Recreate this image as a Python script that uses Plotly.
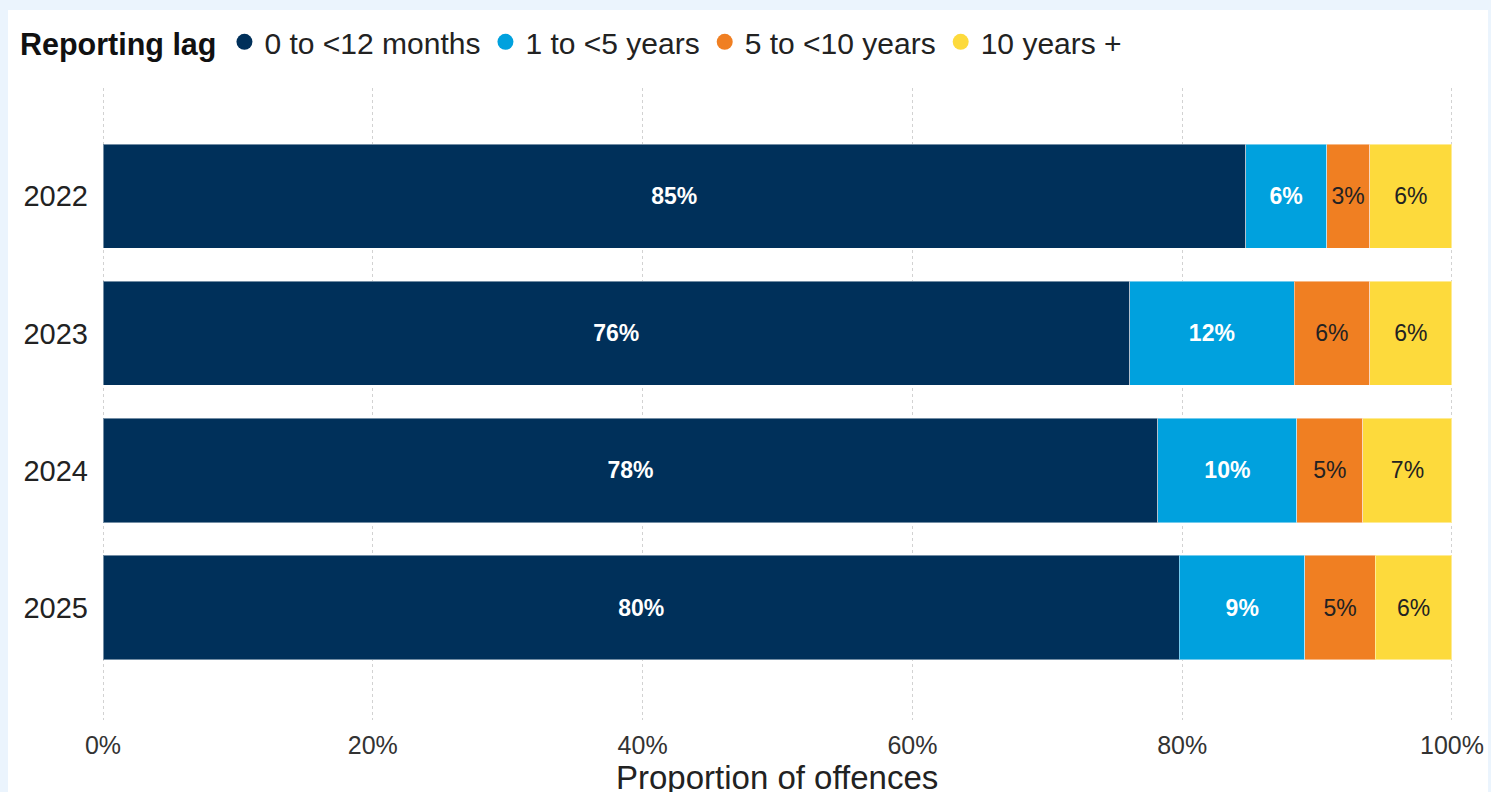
import plotly.graph_objects as go

years = ["2022", "2023", "2024", "2025"]
series_names = ["0 to <12 months", "1 to <5 years", "5 to <10 years", "10 years +"]
lag_0_12m = [84.7, 76.1, 78.2, 79.8]
lag_1_5y = [6.0, 12.2, 10.3, 9.3]
lag_5_10y = [3.2, 5.6, 4.9, 5.2]
lag_10y_plus = [6.1, 6.1, 6.6, 5.7]
x_ticks = [0, 20, 40, 60, 80, 100]
x_tick_labels = ["0%", "20%", "40%", "60%", "80%", "100%"]
x_title = "Proportion of offences"

series_values = [lag_0_12m, lag_1_5y, lag_5_10y, lag_10y_plus]
colors = ["#00305A", "#00A1DE", "#F07F22", "#FDDA3C"]
text_colors = ["#FFFFFF", "#FFFFFF", "#222222", "#222222"]
text_weights = ["bold", "bold", "normal", "normal"]

FONT = "Liberation Sans, Arial, sans-serif"
W, H = 1491, 792
ML, MR, MT, MB = 101, 37, 88, 72

fig = go.Figure()
for name, vals, col, tcol, tw in zip(series_names, series_values, colors, text_colors, text_weights):
    fig.add_trace(go.Bar(
        y=years, x=vals, orientation="h", name=name,
        marker=dict(color=col, line=dict(color="rgba(255,255,255,0.45)", width=1)),
        texttemplate="%{x:.0f}%", textposition="inside", insidetextanchor="middle",
        textangle=0, constraintext="none",
        textfont=dict(color=tcol, size=23, family=FONT, weight=tw),
        showlegend=False, hoverinfo="skip",
    ))
for name, col in zip(series_names, colors):
    fig.add_trace(go.Scatter(
        x=[None], y=[None], mode="markers", name=name,
        marker=dict(color=col, size=16, symbol="circle"),
    ))

pw = W - ML - MR
ph = H - MT - MB
fig.add_shape(
    type="rect", xref="paper", yref="paper", layer="below",
    x0=(8 - ML) / pw, x1=(1488 - ML) / pw,
    y0=-(MB + 5) / ph, y1=1 + (MT - 10) / ph,
    fillcolor="white", line=dict(width=0),
)
fig.add_annotation(
    text=x_title, xref="paper", yref="paper",
    x=(777 - ML) / pw, y=-(777 - (H - MB)) / ph,
    xanchor="center", yanchor="middle", showarrow=False,
    font=dict(size=33, family=FONT, color="#222222"),
)

fig.update_layout(
    width=W, height=H,
    margin=dict(l=ML, r=MR, t=MT, b=MB, autoexpand=False),
    paper_bgcolor="#EBF4FD", plot_bgcolor="white",
    barmode="stack", bargap=0.24,
    font=dict(family=FONT, color="#222222"),
    legend=dict(
        orientation="h", xref="container", yref="container",
        x=0.012, y=0.98, xanchor="left", yanchor="top",
        traceorder="normal",
        font=dict(size=30, family=FONT, color="#222222"),
        title=dict(text="<b>Reporting lag</b>", font=dict(size=30.5, family=FONT, color="#111111")),
        itemwidth=30, tracegroupgap=0, itemclick=False,
        bgcolor="rgba(0,0,0,0)",
    ),
    xaxis=dict(
        range=[-0.15, 100.15], tickvals=x_ticks, ticktext=x_tick_labels,
        showgrid=True, gridcolor="#D2D2D2", griddash="dot", gridwidth=1,
        zeroline=False, showline=False, automargin=False,
        tickfont=dict(size=25, family=FONT, color="#333333"),
        ticklabelstandoff=8,
    ),
    yaxis=dict(
        type="category", categoryorder="array", categoryarray=years,
        range=[3.82, -0.79], showgrid=False, zeroline=False, showline=False,
        automargin=False,
        tickfont=dict(size=29, family=FONT, color="#222222"),
        ticklabelstandoff=12,
    ),
)

fig.write_html("out.html", config={"displayModeBar": False},
               post_script="document.body.style.margin='0';")
